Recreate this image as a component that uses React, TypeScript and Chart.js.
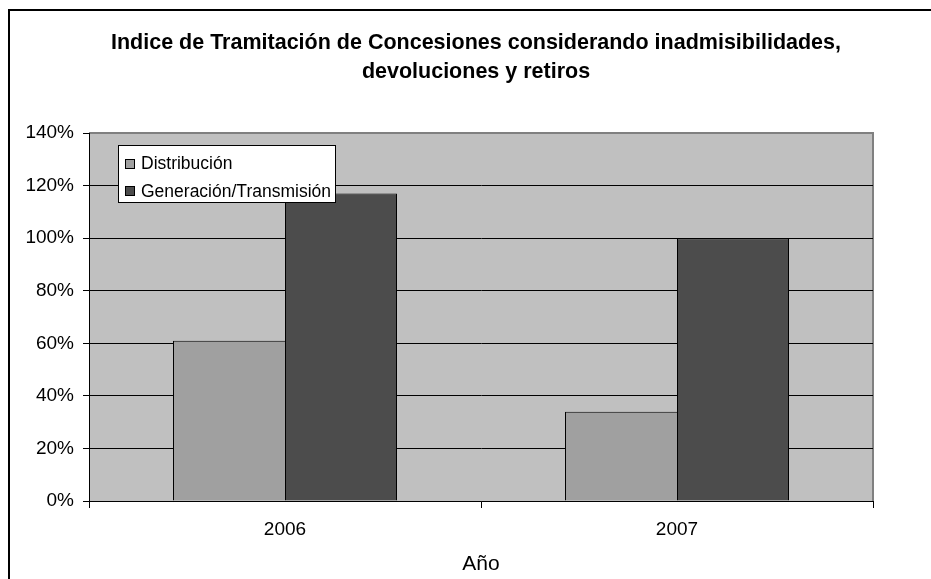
import React, { useEffect, useRef } from "react";
import { Chart, registerables } from "chart.js";

Chart.register(...registerables);

const categories = ["2006", "2007"];
const seriesNames = ["Distribución", "Generación/Transmisión"];
const distribucion = [61, 34];
const generacion = [117, 100];
const seriesColors = ["#a0a0a0", "#4c4c4c"];
const titleLines = [
  "Indice de Tramitación de Concesiones considerando inadmisibilidades,",
  "devoluciones y retiros",
];
const xTitle = "Año";
const yMin = 0;
const yMax = 140;
const yStep = 20;

const FONT = '"Liberation Sans", Arial, Helvetica, sans-serif';

const plotBgPlugin = {
  id: "plotBg",
  beforeDraw(chart: any) {
    const { ctx, chartArea: a } = chart;
    ctx.save();
    ctx.fillStyle = "#c0c0c0";
    ctx.fillRect(a.left, a.top, a.right - a.left, a.bottom - a.top);
    ctx.strokeStyle = "#808080";
    ctx.lineWidth = 2;
    ctx.beginPath();
    ctx.moveTo(a.left, a.top);
    ctx.lineTo(a.right, a.top);
    ctx.lineTo(a.right, a.bottom);
    ctx.stroke();
    ctx.restore();
  },
};

const titlePlugin = {
  id: "customTitle",
  afterDraw(chart: any) {
    const { ctx } = chart;
    ctx.save();
    ctx.fillStyle = "#000";
    ctx.font = `bold 21.5px ${FONT}`;
    ctx.textAlign = "center";
    ctx.textBaseline = "alphabetic";
    ctx.fillText(titleLines[0], 466, 38);
    ctx.fillText(titleLines[1], 466, 67);
    ctx.restore();
  },
};

const legendPlugin = {
  id: "customLegend",
  afterDraw(chart: any) {
    const { ctx } = chart;
    const x = 108;
    const y = 134;
    const w = 218;
    const h = 58;
    ctx.save();
    ctx.fillStyle = "#fff";
    ctx.fillRect(x, y, w, h);
    ctx.strokeStyle = "#000";
    ctx.lineWidth = 1;
    ctx.strokeRect(x + 0.5, y + 0.5, w - 1, h - 1);
    ctx.font = `17.5px ${FONT}`;
    ctx.textAlign = "left";
    ctx.textBaseline = "middle";
    const rows = [152.5, 180];
    seriesNames.forEach((name, i) => {
      const cy = rows[i];
      ctx.fillStyle = seriesColors[i];
      ctx.fillRect(115, Math.round(cy - 5), 10, 10);
      ctx.strokeStyle = "#000";
      ctx.strokeRect(115.5, Math.round(cy - 5) + 0.5, 9, 9);
      ctx.fillStyle = "#000";
      ctx.fillText(name, 131, cy + 1);
    });
    ctx.restore();
  },
};

export default function App() {
  const canvasRef = useRef<HTMLCanvasElement | null>(null);

  useEffect(() => {
    if (!canvasRef.current) return;
    const chart = new Chart(canvasRef.current, {
      type: "bar",
      data: {
        labels: categories,
        datasets: [
          {
            label: seriesNames[0],
            data: distribucion,
            backgroundColor: seriesColors[0],
            borderColor: "#000",
            borderWidth: { top: 1, left: 1, right: 0, bottom: 0 } as any,
            borderSkipped: false,
            barPercentage: 1,
            categoryPercentage: 2 / 3.5,
          },
          {
            label: seriesNames[1],
            data: generacion,
            backgroundColor: seriesColors[1],
            borderColor: "#000",
            borderWidth: { top: 1, left: 1, right: 1, bottom: 0 } as any,
            borderSkipped: false,
            barPercentage: 1,
            categoryPercentage: 2 / 3.5,
          },
        ],
      },
      options: {
        animation: false,
        responsive: false,
        devicePixelRatio: 1,
        layout: { padding: { top: 122, right: 58, bottom: 0, left: 0 } },
        plugins: {
          legend: { display: false },
          title: { display: false },
          tooltip: { enabled: false },
        },
        scales: {
          x: {
            type: "category",
            grid: {
              offset: true,
              drawOnChartArea: false,
              drawTicks: true,
              tickLength: 7,
              color: "#000",
              tickColor: "#000",
            },
            border: { display: true, color: "#000", width: 1 },
            ticks: {
              color: "#000",
              font: { family: FONT, size: 19 },
              padding: 10,
              maxRotation: 0,
            },
            title: {
              display: true,
              text: xTitle,
              color: "#000",
              font: { family: FONT, size: 21 },
              padding: { top: 0, bottom: 2 },
            },
            afterFit: (s: any) => {
              s.height = 78;
            },
          },
          y: {
            min: yMin,
            max: yMax,
            ticks: {
              stepSize: yStep,
              callback: (v: any) => `${v}%`,
              color: "#000",
              font: { family: FONT, size: 19 },
              padding: 9,
            },
            grid: {
              color: (c: any) =>
                c.tick && c.tick.value === yMax ? "#808080" : "#000",
              tickColor: "#000",
              tickLength: 6,
              lineWidth: 1,
            },
            border: { display: true, color: "#000", width: 1 },
            afterFit: (s: any) => {
              s.width = 79;
            },
          },
        },
      } as any,
      plugins: [plotBgPlugin, titlePlugin, legendPlugin],
    });
    return () => chart.destroy();
  }, []);

  return (
    <div
      style={{
        position: "fixed",
        left: 8,
        top: 9,
        borderLeft: "2px solid #000",
        borderTop: "2px solid #000",
        background: "#fff",
      }}
    >
      <canvas
        ref={canvasRef}
        width={921}
        height={568}
        style={{ display: "block", width: 921, height: 568 }}
      />
    </div>
  );
}
